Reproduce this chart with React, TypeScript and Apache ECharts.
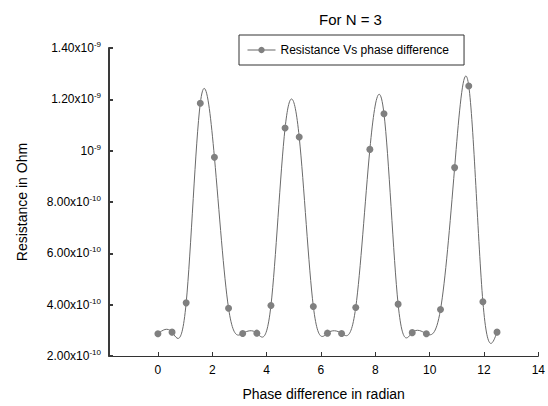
import React, { useEffect, useRef } from "react";
import * as echarts from "echarts";

// Phase difference (radian)
const phaseX: number[] = [
  0, 0.52, 1.04, 1.56, 2.08, 2.6, 3.12, 3.64, 4.16, 4.68, 5.2, 5.72, 6.24,
  6.76, 7.28, 7.8, 8.32, 8.84, 9.36, 9.88, 10.4, 10.92, 11.44, 11.96, 12.48,
];
// Resistance (Ohm)
const resistance: number[] = [
  2.87e-10, 2.93e-10, 4.07e-10, 11.85e-10, 9.74e-10, 3.86e-10, 2.88e-10,
  2.89e-10, 3.97e-10, 10.88e-10, 10.53e-10, 3.93e-10, 2.89e-10, 2.88e-10,
  3.89e-10, 10.05e-10, 11.44e-10, 4.02e-10, 2.91e-10, 2.87e-10, 3.81e-10,
  9.34e-10, 12.52e-10, 4.11e-10, 2.93e-10,
];

const yTickBase: string[] = ["2.00x10", "4.00x10", "6.00x10", "8.00x10", "10", "1.20x10", "1.40x10"];
const yTickExp: string[] = ["-10", "-10", "-10", "-10", "-9", "-9", "-9"];
const xTickLabels: string[] = ["0", "2", "4", "6", "8", "10", "12", "14"];

const seriesName = "Resistance Vs phase difference";
const titleText = "For N = 3";
const xName = "Phase difference in radian";
const yName = "Resistance in Ohm";

// natural cubic spline: slopes at both ends of every segment
function splineSlopes(xs: number[], ys: number[]) {
  const n = xs.length;
  const h: number[] = [];
  for (let i = 0; i < n - 1; i++) h.push(xs[i + 1] - xs[i]);
  const M = new Array(n).fill(0);
  const a = new Array(n).fill(0), b = new Array(n).fill(0), c = new Array(n).fill(0), d = new Array(n).fill(0);
  for (let i = 1; i < n - 1; i++) {
    a[i] = h[i - 1];
    b[i] = 2 * (h[i - 1] + h[i]);
    c[i] = h[i];
    d[i] = 6 * ((ys[i + 1] - ys[i]) / h[i] - (ys[i] - ys[i - 1]) / h[i - 1]);
  }
  const cp = new Array(n).fill(0), dp = new Array(n).fill(0);
  for (let i = 1; i < n - 1; i++) {
    const den = b[i] - a[i] * (i > 1 ? cp[i - 1] : 0);
    cp[i] = c[i] / den;
    dp[i] = (d[i] - a[i] * (i > 1 ? dp[i - 1] : 0)) / den;
  }
  for (let i = n - 2; i >= 1; i--) {
    M[i] = dp[i] - cp[i] * (i < n - 2 ? M[i + 1] : 0);
  }
  const left: number[] = [], right: number[] = [];
  for (let i = 0; i < n - 1; i++) {
    const s = (ys[i + 1] - ys[i]) / h[i];
    left.push(s - (h[i] * (2 * M[i] + M[i + 1])) / 6);
    right.push(s + (h[i] * (M[i] + 2 * M[i + 1])) / 6);
  }
  return { left, right };
}

const FONT = "'Liberation Sans', Arial, sans-serif";
const AXIS = "#333";
const Y_AXIS = "#3a3a3a";

export default function App() {
  const ref = useRef<HTMLDivElement>(null);
  useEffect(() => {
    if (!ref.current) return;
    const chart = echarts.init(ref.current, undefined, { renderer: "svg" });
    const slopes = splineSlopes(phaseX, resistance);
    const pts = phaseX.map((x, i) => [x, resistance[i]]);
    chart.setOption({
      animation: false,
      title: {
        text: titleText,
        left: 314,
        top: 7,
        textStyle: { fontSize: 15, fontWeight: "normal", color: "#000", fontFamily: FONT },
      },
      legend: {
        data: [seriesName],
        left: 239,
        top: 35,
        padding: [9, 15, 9, 8],
        itemWidth: 28,
        itemHeight: 8,
        borderColor: AXIS,
        borderWidth: 1,
        textStyle: { fontSize: 12, color: "#000", fontFamily: FONT },
        lineStyle: { width: 1, color: "#666", opacity: 1 },
      },
      grid: { left: 109, right: 6, top: 48, bottom: 49, containLabel: false },
      xAxis: {
        type: "value",
        min: -1.8,
        max: 14,
        splitNumber: 8,
        minInterval: 2,
        maxInterval: 2,
        name: xName,
        nameLocation: "middle",
        nameGap: 31,
        nameTextStyle: { fontSize: 14, color: "#000", fontFamily: FONT },
        axisLine: { show: true, onZero: false, lineStyle: { color: AXIS, width: 1 } },
        axisTick: { show: true, inside: true, length: 4, lineStyle: { color: AXIS } },
        axisLabel: {
          fontSize: 12,
          color: "#000",
          fontFamily: FONT,
          margin: 8,
          showMinLabel: false,
          formatter: (v: number) => {
            const i = Math.round(v / 2);
            return Math.abs(v - i * 2) < 1e-6 && i >= 0 && i < xTickLabels.length ? xTickLabels[i] : "";
          },
        },
        splitLine: { show: false },
      },
      yAxis: [
        {
          type: "value",
          min: 2e-10,
          max: 1.4e-9,
          interval: 2e-10,
          name: yName,
          nameLocation: "middle",
          nameGap: 80,
          nameTextStyle: { fontSize: 14, color: "#000", fontFamily: FONT },
          axisLine: { show: true, onZero: false, lineStyle: { color: Y_AXIS, width: 2 } },
          axisTick: { show: true, inside: true, length: 4, lineStyle: { color: Y_AXIS, width: 2 } },
          axisLabel: {
            color: "#000",
            margin: 8,
            formatter: (v: number) => {
              const i = Math.round((v - 2e-10) / 2e-10);
              if (i < 0 || i >= yTickBase.length) return "";
              return `{b|${yTickBase[i]}}{s|${yTickExp[i]}}`;
            },
            rich: {
              b: { fontSize: 12, color: "#000", fontFamily: FONT },
              s: { fontSize: 8, color: "#000", fontFamily: FONT, padding: [0, 0, 7, 0] },
            },
          },
          splitLine: { show: false },
        },
      ],
      series: [
        {
          type: "custom",
          name: "spline",
          silent: true,
          data: pts,
          renderItem: (params: any, api: any) => {
            const i = params.dataIndex;
            if (i >= phaseX.length - 1) return null;
            const h = phaseX[i + 1] - phaseX[i];
            const p0 = api.coord([phaseX[i], resistance[i]]);
            const p1 = api.coord([phaseX[i + 1], resistance[i + 1]]);
            const c0 = api.coord([phaseX[i] + h / 3, resistance[i] + (slopes.left[i] * h) / 3]);
            const c1 = api.coord([phaseX[i + 1] - h / 3, resistance[i + 1] - (slopes.right[i] * h) / 3]);
            return {
              type: "bezierCurve",
              shape: {
                x1: p0[0], y1: p0[1], x2: p1[0], y2: p1[1],
                cpx1: c0[0], cpy1: c0[1], cpx2: c1[0], cpy2: c1[1],
              },
              style: { stroke: "#6a6a6a", lineWidth: 1, fill: null },
            };
          },
        },
        {
          type: "line",
          name: seriesName,
          data: pts,
          symbol: "circle",
          symbolSize: 7,
          showSymbol: true,
          lineStyle: { width: 0 },
          itemStyle: { color: "#808080" },
          z: 3,
        },
      ],
    });
    return () => chart.dispose();
  }, []);
  return <div ref={ref} style={{ position: "absolute", left: 0, top: 0, width: 548, height: 406 }} />;
}
